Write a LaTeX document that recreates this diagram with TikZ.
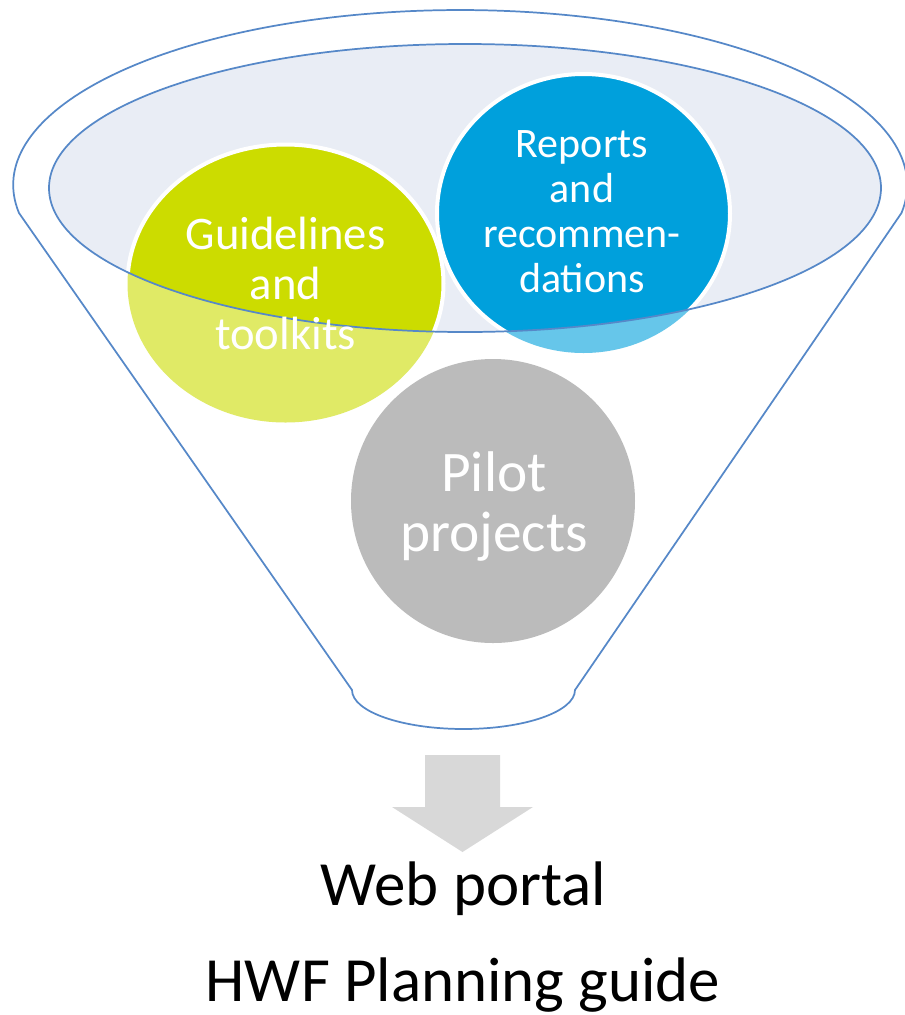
\documentclass[tikz,border=0pt]{standalone}
\usepackage{fontspec}
\setmainfont{Carlito}
\usepackage{tikz}
\tikzset{every picture/.style={line width=0.75pt}}

\definecolor{funnelblue}{RGB}{86,136,200}
\definecolor{bowlfill}{RGB}{233,237,245}
\definecolor{guidegreen}{RGB}{204,220,0}
\definecolor{reportblue}{RGB}{0,160,220}
\definecolor{pilotgray}{RGB}{187,187,187}
\definecolor{arrowgray}{RGB}{216,216,216}
\colorlet{guidelight}{guidegreen!60!white}
\colorlet{reportlight}{reportblue!60!white}

\begin{document}
\begin{tikzpicture}[x=0.75pt,y=0.75pt,yscale=-1,xscale=1,
  funnelline/.style={draw=funnelblue, line width=1.3pt},
  ringline/.style={draw=white, line width=3pt},
  bubbletext/.style={text=white, align=center, inner sep=0pt},
  outtext/.style={text=black, inner sep=0pt, anchor=base, font=\fontsize{47.2}{52}\selectfont}]

\useasboundingbox (0,0) rectangle (905,1015);

%Funnel outline
\draw [funnelline, fill=white] (352,690) -- (19,213)
  arc [start angle=170.8, end angle=369.2, x radius=447, y radius=175]
  -- (575,690)
  arc [start angle=0, end angle=180, x radius=111.5, y radius=39] -- cycle ;
%Bowl
\fill [bowlfill] (465,188) ellipse [x radius=416, y radius=144] ;

%Bubbles, light part
\fill [guidelight] (285.5,283.5) ellipse [x radius=158, y radius=139] ;
\fill [reportlight] (583.5,213.5) ellipse [x radius=146.5, y radius=139.5] ;
%Bubbles inside the bowl
\begin{scope}
\clip (465,188) ellipse [x radius=416, y radius=144] ;
\draw [ringline, fill=guidegreen] (285.5,283.5) ellipse [x radius=158, y radius=139] ;
\draw [ringline, fill=reportblue] (583.5,213.5) ellipse [x radius=146.5, y radius=139.5] ;
\end{scope}
\draw [funnelline] (465,188) ellipse [x radius=416, y radius=144] ;
\fill [pilotgray] (493,501) circle [radius=142] ;

%Down arrow
\fill [arrowgray] (425,755) -- (500,755) -- (500,807) -- (533,807) -- (462.5,852) -- (392,807) -- (425,807) -- cycle ;

% Text Node
\node [bubbletext, font=\fontsize{35}{37.5}\selectfont] (guide) at (285.5,283) {Guidelines\\and\\toolkits};
% Text Node
\node [bubbletext, font=\fontsize{31.5}{33.75}\selectfont] (report) at (582,211.5) {Reports\\and\\recommen-\\dations};
% Text Node
\node [bubbletext, font=\fontsize{43}{45}\selectfont] (pilot) at (494,506) {Pilot\\projects};
% Text Node
\node [outtext] (portal) at (463.5,905) {Web portal};
% Text Node
\node [outtext] (guidebook) at (463,1001) {HWF Planning guide};
\end{tikzpicture}
\end{document}
